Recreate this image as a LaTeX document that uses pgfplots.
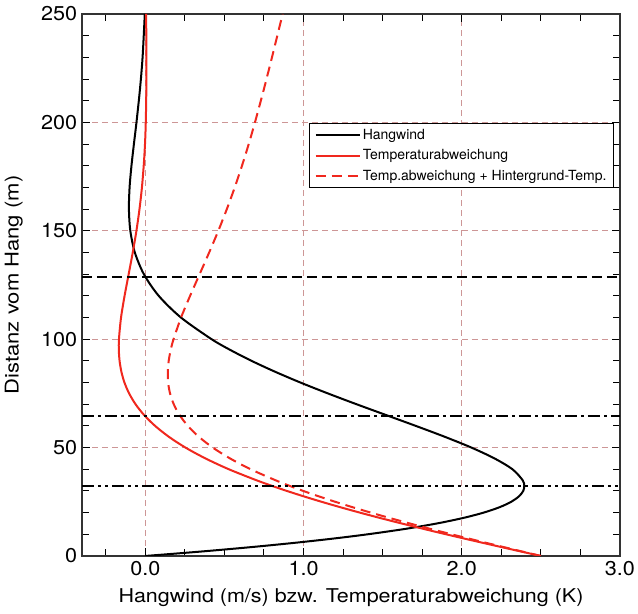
\documentclass[border=0pt]{standalone}
\usepackage{pgfplots}
\pgfplotsset{compat=1.18}
\usepackage{fontspec}
\setmainfont{TeX Gyre Heros}
\definecolor{gridc}{RGB}{205,150,150}
\definecolor{lred}{RGB}{240,40,30}

% profiles: height z (m), slope wind u (m/s), temperature anomaly th (K), th + background (K)
\pgfplotstableread{
z     u       th      thb
0     0.0000  2.5000  2.5000
2     0.3450  2.3781  2.3850
4     0.6565  2.2569  2.2707
6     0.9360  2.1366  2.1573
8     1.1852  2.0178  2.0454
10    1.4059  1.9009  1.9354
12.5  1.6442  1.7580  1.8011
15    1.8436  1.6193  1.6710
17.5  2.0073  1.4851  1.5455
20    2.1384  1.3559  1.4249
22.5  2.2393  1.2321  1.3097
25    2.3129  1.1138  1.2000
27.5  2.3615  1.0014  1.0963
30    2.3887  0.8948  0.9983
32.5  2.3951  0.7944  0.9065
35    2.3844  0.6999  0.8207
40    2.3204  0.5278  0.6658
45    2.2068  0.3802  0.5355
50    2.0610  0.2537  0.4262
55    1.8918  0.1485  0.3383
60    1.7095  0.0620  0.2690
65    1.5219 -0.0075  0.2168
70    1.3348 -0.0616  0.1799
75    1.1532 -0.1023  0.1564
80    0.9804 -0.1317  0.1443
85    0.8196 -0.1510  0.1423
90    0.6716 -0.1625  0.1480
95    0.5379 -0.1672  0.1606
100   0.4189 -0.1664  0.1786
110   0.2251 -0.1532  0.2263
120   0.0848 -0.1308  0.2832
130  -0.0091 -0.1049  0.3436
140  -0.0660 -0.0792  0.4038
150  -0.0945 -0.0560  0.4615
160  -0.1034 -0.0366  0.5154
170  -0.0992 -0.0212  0.5653
180  -0.0873 -0.0099  0.6111
190  -0.0719 -0.0018  0.6537
200  -0.0557  0.0031  0.6931
215  -0.0340  0.0066  0.7484
230  -0.0171  0.0071  0.8006
250  -0.0031  0.0055  0.8680
}\profiles

\begin{document}
\begin{tikzpicture}
\begin{axis}[
    scale only axis,
    width=538pt, height=542pt,
    xmin=-0.4, xmax=3.0,
    ymin=0, ymax=250,
    axis line style={line width=1.2pt, black!80},
    xtick={0,1,2,3},
    minor xtick={-0.25,0.25,0.5,0.75,1.25,1.5,1.75,2.25,2.5,2.75},
    ytick={0,50,100,150,200,250},
    minor ytick={10,20,30,40,60,70,80,90,110,120,130,140,160,170,180,190,210,220,230,240},
    tick align=inside,
    tick style={line width=1pt, black},
    major tick length=8pt, minor tick length=7pt,
    x tick label style={/pgf/number format/fixed, /pgf/number format/fixed zerofill, /pgf/number format/precision=1, yshift=-2pt},
    y tick label style={xshift=-1pt},
    /pgf/number format/assume math mode=true,
    ticklabel style={font=\fontsize{20}{22}\selectfont, xscale=1.08},
    xmajorgrids, ymajorgrids,
    major grid style={gridc, line width=0.8pt, dash pattern=on 6pt off 4pt},
    xlabel={Hangwind (m/s) bzw. Temperaturabweichung (K)},
    ylabel={Distanz vom Hang (m)},
    label style={font=\fontsize{19}{22}\selectfont},
    xlabel style={at={(axis description cs:0.5,-0.0775)}, anchor=center, xscale=1.13},
    ylabel style={at={(axis description cs:-0.127,0.5)}, anchor=center, xscale=1.16},
    legend style={at={(rel axis cs:0.989,0.799)}, anchor=north east,
        draw=black, line width=1.2pt, font=\fontsize{14}{16}\selectfont,
        row sep=4.5pt, inner xsep=5pt, inner ysep=4pt},
    legend cell align=left,
    legend image code/.code={\path (0pt,0pt) -- (44pt,0pt); \draw[#1] (0pt,0pt) -- (30pt,0pt);},
]
\addplot[black, line width=2pt, smooth] table[x=u, y=z] {\profiles};
\addlegendentry{Hangwind}
\addplot[lred, line width=2pt, smooth] table[x=th, y=z] {\profiles};
\addlegendentry{Temperaturabweichung}
\addplot[lred, line width=2pt, smooth, dash pattern=on 10pt off 6pt] table[x=thb, y=z] {\profiles};
\addlegendentry{Temp.abweichung + Hintergrund-Temp.}

\addplot[black, line width=1.8pt, dash pattern=on 10pt off 5pt, forget plot] coordinates {(-0.4,128.8) (3.0,128.8)};
\addplot[black, line width=1.8pt, dash pattern=on 12pt off 4pt on 3pt off 4pt, forget plot] coordinates {(-0.4,64.4) (3.0,64.4)};
\addplot[black, line width=1.8pt, dash pattern=on 12pt off 4pt on 3pt off 4pt on 3pt off 4pt, forget plot] coordinates {(-0.4,32.2) (3.0,32.2)};

\coordinate (bl) at (rel axis cs:-0.1524,-0.107);
\coordinate (tr) at (rel axis cs:1.0335,1.0258);
\end{axis}
\pgfresetboundingbox
\path (bl) rectangle (tr);
\end{tikzpicture}
\end{document}
